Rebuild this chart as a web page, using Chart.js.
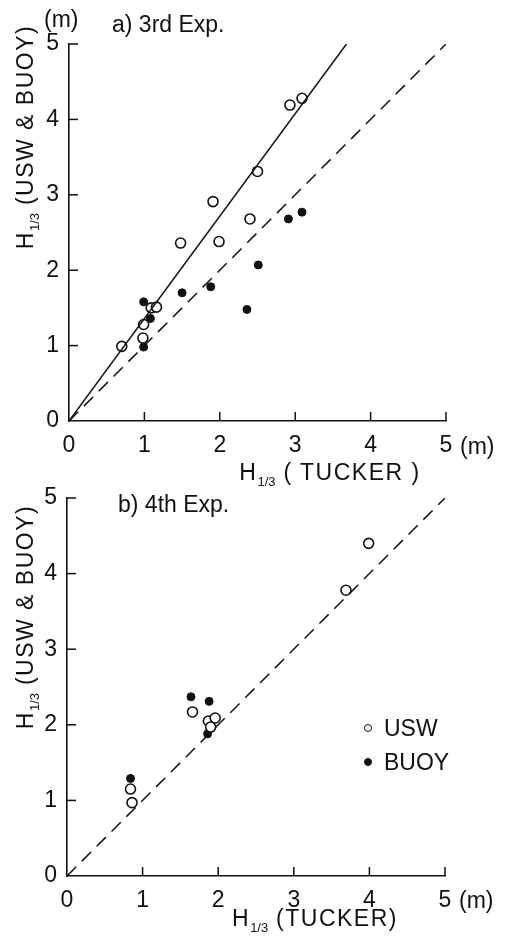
<!DOCTYPE html>
<html>
<head>
<meta charset="utf-8">
<script src="https://cdn.jsdelivr.net/npm/chart.js@4.4.1/dist/chart.umd.min.js"></script>
<style>
  body { margin: 0; background: #fff; }
  #wrap { position: relative; width: 508px; height: 947px; background: #fff; overflow: hidden;
          font-family: 'Liberation Sans Narrow', 'Liberation Sans', Arial, sans-serif; color: #111; }
  canvas { position: absolute; left: 0; }
  .txt { position: absolute; white-space: nowrap; font-size: 23px; line-height: 1; }
  .ytitle { transform: translate(-50%, -50%) rotate(-90deg); letter-spacing: 1.5px; }
  .xtitle { transform: translate(-50%, -50%); letter-spacing: 1.5px; }
  .frac { font-size: 13px; position: relative; top: 6px; letter-spacing: 0; }
  .mk { display: inline-block; width: 6px; height: 6px; border-radius: 50%; border: 1.6px solid #111; margin-right: 12px; vertical-align: middle; position: relative; top: -2px; }
</style>
</head>
<body>
<div id="wrap">
  <canvas id="chartA" width="508" height="470" style="top:0"></canvas>
  <canvas id="chartB" width="508" height="477" style="top:470px"></canvas>

  <div class="txt" style="left:44px; top:8px;">(m)</div>
  <div class="txt" style="left:112px; top:13px;">a) 3rd Exp.</div>
  <div class="txt ytitle" style="left:25px; top:137px;">H<span class="frac">1/3</span> (USW &amp; BUOY)</div>
  <div class="txt" style="left:460px; top:435px;">(m)</div>
  <div class="txt xtitle" style="left:330px; top:472px;">H<span class="frac">1/3</span> ( TUCKER )</div>

  <div class="txt" style="left:118px; top:493px;">b) 4th Exp.</div>
  <div class="txt ytitle" style="left:25px; top:617px;">H<span class="frac">1/3</span> (USW &amp; BUOY)</div>
  <div class="txt" style="left:459px; top:889px;">(m)</div>
  <div class="txt xtitle" style="left:315px; top:918px;">H<span class="frac">1/3</span> (TUCKER)</div>

  <div class="txt" style="left:364px; top:717px;"><span class="mk"></span>USW</div>
  <div class="txt" style="left:364px; top:751px;"><span class="mk" style="background:#111"></span>BUOY</div>
</div>

<script>
// axis ticks (m)
const tickValues = [0, 1, 2, 3, 4, 5];

// a) 3rd Exp.
const aUswX = [0.70, 0.98, 0.99, 1.09, 1.16, 1.48, 1.91, 1.99, 2.40, 2.50, 2.93, 3.09];
const aUswY = [0.99, 1.10, 1.28, 1.50, 1.51, 2.36, 2.91, 2.38, 2.68, 3.31, 4.19, 4.28];
const aBuoyX = [0.99, 0.99, 1.08, 1.50, 1.88, 2.36, 2.51, 2.91, 3.09];
const aBuoyY = [0.98, 1.58, 1.36, 1.70, 1.78, 1.48, 2.07, 2.68, 2.77];
const aFitX = [0, 3.68];
const aFitY = [0, 5];

// b) 4th Exp.
const bUswX = [0.86, 0.84, 1.66, 1.87, 1.96, 1.90, 3.69, 3.99];
const bUswY = [0.97, 1.15, 2.17, 2.05, 2.09, 1.97, 3.78, 4.40];
const bBuoyX = [0.84, 1.64, 1.88, 1.86];
const bBuoyY = [1.29, 2.37, 2.31, 1.88];

// 1:1 line
const diagX = [0, 5];
const diagY = [0, 5];

const pts = (xs, ys) => xs.map((x, i) => ({x: x, y: ys[i]}));

const ink = '#111';
const tickFont = {family: "'Liberation Sans Narrow', 'Liberation Sans', Arial, sans-serif", size: 23};

// ticks pointing into the plot
const innerTicks = {
    id: 'innerTicks',
    afterDraw(chart) {
        const {ctx, chartArea, scales} = chart;
        ctx.save();
        ctx.strokeStyle = ink;
        ctx.lineWidth = 1.5;
        scales.x.ticks.forEach(t => {
            if (t.value === 0) return;
            const px = scales.x.getPixelForValue(t.value);
            ctx.beginPath();
            ctx.moveTo(px, chartArea.bottom);
            ctx.lineTo(px, chartArea.bottom - 9);
            ctx.stroke();
        });
        scales.y.ticks.forEach(t => {
            if (t.value === 0) return;
            const py = scales.y.getPixelForValue(t.value);
            ctx.beginPath();
            ctx.moveTo(chartArea.left, py);
            ctx.lineTo(chartArea.left + 9, py);
            ctx.stroke();
        });
        ctx.restore();
    }
};

function makeScales(yWidth, xHeight) {
    const common = {
        type: 'linear',
        min: 0,
        max: 5,
        afterBuildTicks: s => { s.ticks = tickValues.map(v => ({value: v})); },
        grid: {display: true, drawOnChartArea: false, drawTicks: false},
        border: {display: true, color: ink, width: 1.6}
    };
    return {
        x: Object.assign({}, common, {
            ticks: {color: ink, font: tickFont, padding: 11, maxRotation: 0},
            afterFit: s => { s.height = xHeight; }
        }),
        y: Object.assign({}, common, {
            ticks: {color: ink, font: tickFont, padding: 10},
            afterFit: s => { s.width = yWidth; }
        })
    };
}

function lineSet(xs, ys, dash) {
    return {
        type: 'line',
        data: pts(xs, ys),
        borderColor: ink,
        borderWidth: 1.5,
        borderDash: dash,
        pointRadius: 0,
        fill: false
    };
}

function usw(xs, ys) {
    return {label: 'USW', data: pts(xs, ys), pointRadius: 5, pointBorderWidth: 1.6,
            pointBorderColor: ink, pointBackgroundColor: '#fff'};
}

function buoy(xs, ys) {
    return {label: 'BUOY', data: pts(xs, ys), pointRadius: 4, pointBorderWidth: 1,
            pointBorderColor: ink, pointBackgroundColor: ink};
}

const baseOptions = (pad, yWidth, xHeight) => ({
    responsive: false,
    animation: false,
    layout: {padding: pad},
    plugins: {legend: {display: false}, tooltip: {enabled: false}},
    scales: makeScales(yWidth, xHeight)
});

new Chart(document.getElementById('chartA').getContext('2d'), {
    type: 'scatter',
    data: {
        datasets: [
            lineSet(diagX, diagY, [13, 8]),
            lineSet(aFitX, aFitY, []),
            usw(aUswX, aUswY),
            buoy(aBuoyX, aBuoyY)
        ]
    },
    options: baseOptions({top: 44, right: 62, left: 0, bottom: 0}, 69, 49),
    plugins: [innerTicks]
});

new Chart(document.getElementById('chartB').getContext('2d'), {
    type: 'scatter',
    data: {
        datasets: [
            lineSet(diagX, diagY, [13, 8]),
            usw(bUswX, bUswY),
            buoy(bBuoyX, bBuoyY)
        ]
    },
    options: baseOptions({top: 28, right: 63, left: 0, bottom: 0}, 67, 71),
    plugins: [innerTicks]
});
</script>
</body>
</html>
